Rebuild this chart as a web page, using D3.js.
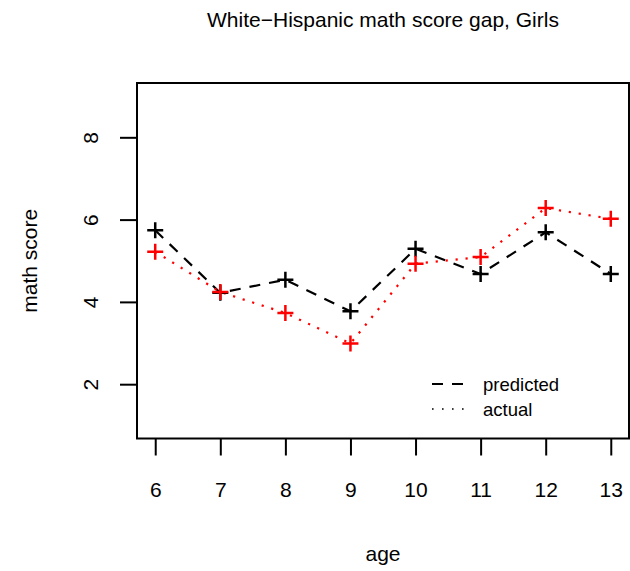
<!DOCTYPE html>
<html>
<head>
<meta charset="utf-8">
<script src="https://cdn.jsdelivr.net/npm/d3@7"></script>
<style>
  body { margin: 0; background: #fff; }
  text { font-family: "Liberation Sans", Arial, sans-serif; fill: #000; }
</style>
</head>
<body>
<svg width="630" height="571"></svg>
<script>
'use strict';

// data
var ages = [6, 7, 8, 9, 10, 11, 12, 13];
var predicted = [5.74, 4.22, 4.54, 3.77, 5.29, 4.68, 5.69, 4.68];
var actual = [5.22, 4.24, 3.73, 2.99, 4.93, 5.09, 6.28, 6.02];
var yTicks = [2, 4, 6, 8];
var legendLabels = ['predicted', 'actual'];

var svg = d3.select('svg');

var plotLeft = 137, plotRight = 629, plotTop = 83, plotBottom = 438.5;
var fontFamily = '"Liberation Sans", Arial, sans-serif';

// R style 4% padding: xlim 6..13, ylim 1..9
var x = d3.scaleLinear().domain([5.72, 13.28]).range([plotLeft, plotRight]);
var y = d3.scaleLinear().domain([0.68, 9.32]).range([plotBottom, plotTop]);

// title
svg.append('text')
    .attr('x', (plotLeft + plotRight) / 2)
    .attr('y', 27)
    .attr('text-anchor', 'middle')
    .style('font-size', '21px')
    .text('White\u2212Hispanic math score gap, Girls');

// x axis
var xAxis = svg.append('g')
    .attr('transform', 'translate(0,' + plotBottom + ')')
    .call(d3.axisBottom(x).tickValues(ages).tickSize(17).tickPadding(27).tickFormat(d3.format('d')));
xAxis.select('.domain').remove();
xAxis.selectAll('line').attr('stroke-width', 2);
xAxis.selectAll('text').style('font-size', '21px').style('font-family', fontFamily);

// y axis
var yAxis = svg.append('g')
    .attr('transform', 'translate(' + plotLeft + ',0)')
    .call(d3.axisLeft(y).tickValues(yTicks).tickSize(17).tickPadding(0).tickFormat(d3.format('d')));
yAxis.select('.domain').remove();
yAxis.selectAll('line').attr('stroke-width', 2);
yAxis.selectAll('text')
    .style('font-size', '21px')
    .style('font-family', fontFamily)
    .attr('text-anchor', 'middle')
    .attr('dy', null)
    .attr('x', null)
    .attr('transform', 'translate(-39.5,0) rotate(-90)');

// box
svg.append('rect')
    .attr('x', plotLeft)
    .attr('y', plotTop)
    .attr('width', plotRight - plotLeft)
    .attr('height', plotBottom - plotTop)
    .attr('fill', 'none')
    .attr('stroke', '#000')
    .attr('stroke-width', 2);

// axis titles
svg.append('text')
    .attr('x', (plotLeft + plotRight) / 2)
    .attr('y', 561)
    .attr('text-anchor', 'middle')
    .style('font-size', '21px')
    .text('age');

svg.append('text')
    .attr('transform', 'translate(37,' + ((plotTop + plotBottom) / 2) + ') rotate(-90)')
    .attr('text-anchor', 'middle')
    .style('font-size', '21px')
    .text('math score');

var line = d3.line()
    .x(function (d, i) { return x(ages[i]); })
    .y(function (d) { return y(d); });

// lines
svg.append('path')
    .datum(predicted)
    .attr('d', line)
    .attr('fill', 'none')
    .attr('stroke', '#000')
    .attr('stroke-width', 2.2)
    .attr('stroke-dasharray', '11,9');

svg.append('path')
    .datum(actual)
    .attr('d', line)
    .attr('fill', 'none')
    .attr('stroke', '#ff0000')
    .attr('stroke-width', 2.2)
    .attr('stroke-dasharray', '2.2,7.8');

// plus symbols
function plus(g, data, colour) {
    g.selectAll('path')
        .data(data)
        .enter()
        .append('path')
        .attr('d', function (d, i) {
            var cx = x(ages[i]), cy = y(d), r = 8;
            return 'M' + (cx - r) + ',' + cy + 'H' + (cx + r) + 'M' + cx + ',' + (cy - r) + 'V' + (cy + r);
        })
        .attr('stroke', colour)
        .attr('stroke-width', 2.5);
}
plus(svg.append('g'), predicted, '#000');
plus(svg.append('g'), actual, '#ff0000');

// legend
var legend = svg.append('g')
    .selectAll('g')
    .data(legendLabels)
    .enter()
    .append('g')
    .attr('transform', function (d, i) { return 'translate(0,' + (384 + i * 25) + ')'; });

legend.append('line')
    .attr('x1', 432)
    .attr('x2', 465)
    .attr('stroke', '#000')
    .attr('stroke-width', function (d, i) { return i === 0 ? 2.2 : 1.6; })
    .attr('stroke-dasharray', function (d, i) { return i === 0 ? '11,9' : '1.6,8.4'; });

legend.append('text')
    .attr('x', 483)
    .attr('y', 6.5)
    .style('font-size', '18.5px')
    .text(function (d) { return d; });
</script>
</body>
</html>
